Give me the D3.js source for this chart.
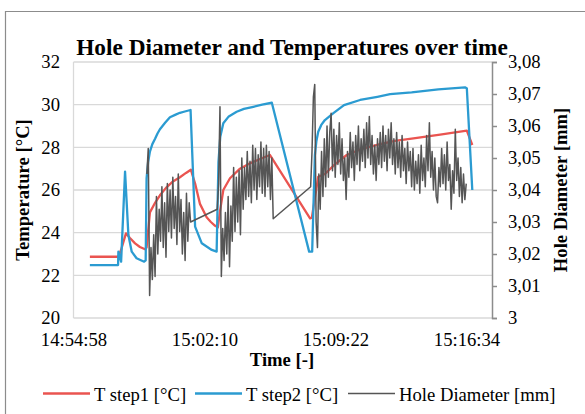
<!DOCTYPE html>
<html>
<head>
<meta charset="utf-8">
<script src="https://cdnjs.cloudflare.com/ajax/libs/d3/7.8.5/d3.min.js"></script>
<style>
  body { margin: 0; background: #fff; }
  svg { font-family: "Liberation Serif", "Times New Roman", serif; }
</style>
</head>
<body>
<div id="container"></div>
<script>
// axis labels
const xTickLabels = ['14:54:58', '15:02:10', '15:09:22', '15:16:34'];
const tempTicks = [20, 22, 24, 26, 28, 30, 32];
const diaTicks = [3, 3.01, 3.02, 3.03, 3.04, 3.05, 3.06, 3.07, 3.08];

// T step1 [°C]
const step1Time = ['14:55:52','14:57:26','14:57:35','14:57:51','14:58:04','14:58:21','14:58:37','14:58:54','14:58:59',
  '14:59:10','14:59:27','14:59:43','15:00:03','15:00:26','15:00:49','15:01:09','15:01:25',
  '15:01:39','15:01:55','15:02:17','15:02:31','15:02:45','15:02:54','15:03:01','15:03:12','15:03:34',
  '15:04:07','15:04:40','15:05:13','15:05:46','15:07:58','15:08:04','15:08:25','15:08:47','15:09:20',
  '15:09:59','15:10:43','15:11:49','15:12:38','15:13:39','15:15:07','15:16:35','15:16:53'];
const step1Temp = [22.87,22.87,23.2,23.97,23.75,23.5,23.33,23.22,23.3,
  24.95,25.4,25.75,26.1,26.4,26.6,26.8,26.95,
  26.3,25.35,24.72,24.5,24.32,24.25,25.0,26.0,26.55,
  27.0,27.25,27.45,27.64,24.67,24.7,26.62,26.75,27.2,
  27.64,27.9,28.15,28.3,28.42,28.6,28.78,28.11];

// T step2 [°C]
const step2Time = ['14:55:52','14:57:25','14:57:26','14:57:35','14:57:48','14:57:59','14:58:10','14:58:26','14:58:51',
  '14:58:56','14:58:59','14:59:04','14:59:10','14:59:18','14:59:27','14:59:35','14:59:43','15:00:00','15:00:16',
  '15:00:33','15:00:49','15:01:05','15:01:24','15:01:39',
  '15:02:01','15:02:34','15:02:50','15:02:56','15:03:02','15:03:12','15:03:30','15:03:56','15:04:20','15:04:51',
  '15:05:20','15:05:52','15:07:55',
  '15:08:05','15:08:14','15:08:19','15:08:25','15:08:35','15:08:47','15:09:15','15:09:50','15:10:43','15:11:40',
  '15:12:22','15:13:33','15:15:01','15:16:29','15:16:35','15:16:53'];
const step2Temp = [22.48,22.48,23.11,22.64,26.86,23.89,23.11,22.8,22.64,
  22.7,26.55,27.3,27.8,28.15,28.4,28.65,28.85,29.15,29.41,
  29.52,29.62,29.68,29.75,24.28,
  23.5,23.19,23.11,27.3,28.5,29.13,29.45,29.67,29.8,29.9,
  30.0,30.09,23.11,
  23.11,27.64,28.3,28.73,29.05,29.28,29.6,29.98,30.22,30.37,
  30.49,30.58,30.72,30.81,30.77,26.0];

// Hole Diameter [mm], logged every 4.5 s in three runs
const diaStepSec = 4.5;
const diaStart = ['14:59:00', '15:02:52', '15:08:00'];
const dia1 = [3.045,3.053,3.007,3.022,3.012,3.026,3.013,3.038,3.020,3.034,3.024,3.041,3.022,3.036,3.019,3.042,
  3.027,3.040,3.025,3.044,3.028,3.038,3.023,3.045,3.027,3.037,3.020,3.033,3.018,3.039,3.024,3.036,3.030];
const dia2 = [3.034,3.042,3.066,3.013,3.028,3.018,3.033,3.020,3.038,3.016,3.035,3.024,3.047,3.027,3.044,3.030,
  3.046,3.026,3.050,3.034,3.047,3.037,3.052,3.038,3.049,3.036,3.054,3.040,3.053,3.037,3.051,3.041,3.055,3.039,
  3.053,3.038,3.054,3.041,3.052,3.037,3.050,3.031];
const dia3 = [3.041,3.052,3.069,3.073,3.030,3.022,3.045,3.034,3.052,3.038,3.056,3.041,3.060,3.044,3.058,3.064,
  3.046,3.059,3.044,3.057,3.048,3.061,3.045,3.056,3.043,3.050,3.037,3.052,3.044,3.058,3.047,3.055,3.043,3.057,
  3.048,3.060,3.046,3.056,3.049,3.059,3.047,3.061,3.050,3.063,3.048,3.057,3.045,3.054,3.043,3.056,3.048,3.058,
  3.047,3.060,3.049,3.057,3.046,3.059,3.050,3.061,3.048,3.056,3.045,3.058,3.047,3.055,3.044,3.057,3.046,3.053,
  3.042,3.055,3.046,3.052,3.041,3.053,3.040,3.049,3.042,3.051,3.039,3.054,3.043,3.050,3.041,3.057,3.046,3.061,
  3.044,3.052,3.040,3.050,3.038,3.036,3.047,3.041,3.053,3.042,3.051,3.040,3.055,3.043,3.048,3.034,3.046,3.039,
  3.059,3.043,3.050,3.038,3.047,3.036,3.045,3.037,3.042];

const parseTime = d3.timeParse('%H:%M:%S');

function makeSeries(times, vals) {
  return times.map((t, i) => ({ t: parseTime(t), v: vals[i] }));
}

const step1 = makeSeries(step1Time, step1Temp);
const step2 = makeSeries(step2Time, step2Temp);
let diameter = [];
[dia1, dia2, dia3].forEach(function (run, k) {
  const t0 = parseTime(diaStart[k]);
  run.forEach(function (v, i) {
    diameter.push({ t: new Date(t0.getTime() + i * diaStepSec * 1000), v: v });
  });
});

const svgWidth = 585, svgHeight = 414;
const plotLeft = 73.5, plotRight = 492, plotTop = 62, plotBottom = 318;
const font = 18.67;

const xScale = d3.scaleTime()
  .domain([parseTime('14:54:58'), parseTime('15:17:58')])
  .range([plotLeft, plotRight]);
const yTemp = d3.scaleLinear().domain([20, 32]).range([plotBottom, plotTop]);
const yDia = d3.scaleLinear().domain([3, 3.08]).range([plotBottom, plotTop]);

const svg = d3.select('#container')
  .append('svg')
  .attr('width', svgWidth)
  .attr('height', svgHeight);

// chart border (only top and left are inside the picture)
svg.append('path')
  .attr('d', 'M5.5,' + svgHeight + 'V11.5H' + svgWidth)
  .attr('fill', 'none')
  .attr('stroke', '#8c8c8c')
  .attr('stroke-width', 1.2);

// gridlines
svg.append('g')
  .selectAll('line')
  .data(tempTicks)
  .enter()
  .append('line')
  .attr('x1', plotLeft)
  .attr('x2', plotRight)
  .attr('y1', d => yTemp(d))
  .attr('y2', d => yTemp(d))
  .attr('stroke', '#d9d9d9')
  .attr('stroke-width', 1.3);

svg.append('line')
  .attr('x1', plotLeft).attr('x2', plotLeft)
  .attr('y1', plotTop).attr('y2', plotBottom)
  .attr('stroke', '#d9d9d9')
  .attr('stroke-width', 1.3);

// left axis
const leftAxis = svg.append('g')
  .attr('transform', 'translate(' + plotLeft + ',0)')
  .call(d3.axisLeft(yTemp).tickValues(tempTicks).tickSize(0).tickPadding(13.5));
leftAxis.select('.domain').remove();

// right axis
const rightAxis = svg.append('g')
  .attr('transform', 'translate(' + plotRight + ',0)')
  .call(d3.axisRight(yDia)
    .tickValues(diaTicks)
    .tickSize(5)
    .tickSizeOuter(5)
    .tickPadding(11)
    .tickFormat(d => d === 3 ? '3' : d.toFixed(2).replace('.', ',')));
rightAxis.selectAll('.domain, .tick line')
  .attr('stroke', '#8c8c8c')
  .attr('stroke-width', 1.5);

// bottom axis
const bottomAxis = svg.append('g')
  .attr('transform', 'translate(0,' + plotBottom + ')')
  .call(d3.axisBottom(xScale)
    .tickValues(xTickLabels.map(parseTime))
    .tickSize(0)
    .tickPadding(15)
    .tickFormat(d3.timeFormat('%H:%M:%S')));
bottomAxis.select('.domain').remove();

[leftAxis, rightAxis, bottomAxis].forEach(g => g.attr('font-family', null).attr('font-size', null));
svg.selectAll('.tick text')
  .attr('font-size', font)
  .attr('fill', '#000');

// series
const lineTemp = d3.line().x(d => xScale(d.t)).y(d => yTemp(d.v));
const lineDia = d3.line().x(d => xScale(d.t)).y(d => yDia(d.v));

svg.append('path')
  .datum(step1)
  .attr('d', lineTemp)
  .attr('fill', 'none')
  .attr('stroke', '#ea5450')
  .attr('stroke-width', 2.3)
  .attr('stroke-linejoin', 'round');

svg.append('path')
  .datum(step2)
  .attr('d', lineTemp)
  .attr('fill', 'none')
  .attr('stroke', '#2b9bd1')
  .attr('stroke-width', 2.3)
  .attr('stroke-linejoin', 'round');

svg.append('path')
  .datum(diameter)
  .attr('d', lineDia)
  .attr('fill', 'none')
  .attr('stroke', '#555555')
  .attr('stroke-width', 1.5)
  .attr('stroke-linejoin', 'round');

// titles
svg.append('text')
  .attr('x', 292)
  .attr('y', 55)
  .attr('text-anchor', 'middle')
  .attr('font-size', 23.3)
  .attr('font-weight', 'bold')
  .text('Hole Diameter and Temperatures over time');

svg.append('text')
  .attr('transform', 'translate(28.5,' + ((plotTop + plotBottom) / 2) + ') rotate(-90)')
  .attr('text-anchor', 'middle')
  .attr('font-size', font)
  .attr('font-weight', 'bold')
  .text('Temperature [°C]');

svg.append('text')
  .attr('transform', 'translate(567,' + ((plotTop + plotBottom) / 2) + ') rotate(-90)')
  .attr('text-anchor', 'middle')
  .attr('font-size', font)
  .attr('font-weight', 'bold')
  .text('Hole Diameter [mm]');

svg.append('text')
  .attr('x', 282)
  .attr('y', 366)
  .attr('text-anchor', 'middle')
  .attr('font-size', font)
  .attr('font-weight', 'bold')
  .text('Time [-]');

// legend
const legendItems = [
  { name: 'T step1 [°C]', color: '#ea5450', x: 43, w: 2.3 },
  { name: 'T step2 [°C]', color: '#2b9bd1', x: 195, w: 2.3 },
  { name: 'Hole Diameter [mm]', color: '#555555', x: 348, w: 1.5 }
];
const legend = svg.append('g');
legendItems.forEach(function (item) {
  legend.append('line')
    .attr('x1', item.x).attr('x2', item.x + 47)
    .attr('y1', 393.5).attr('y2', 393.5)
    .attr('stroke', item.color)
    .attr('stroke-width', item.w);
  legend.append('text')
    .attr('x', item.x + 51)
    .attr('y', 401)
    .attr('font-size', font)
    .text(item.name);
});
</script>
</body>
</html>
